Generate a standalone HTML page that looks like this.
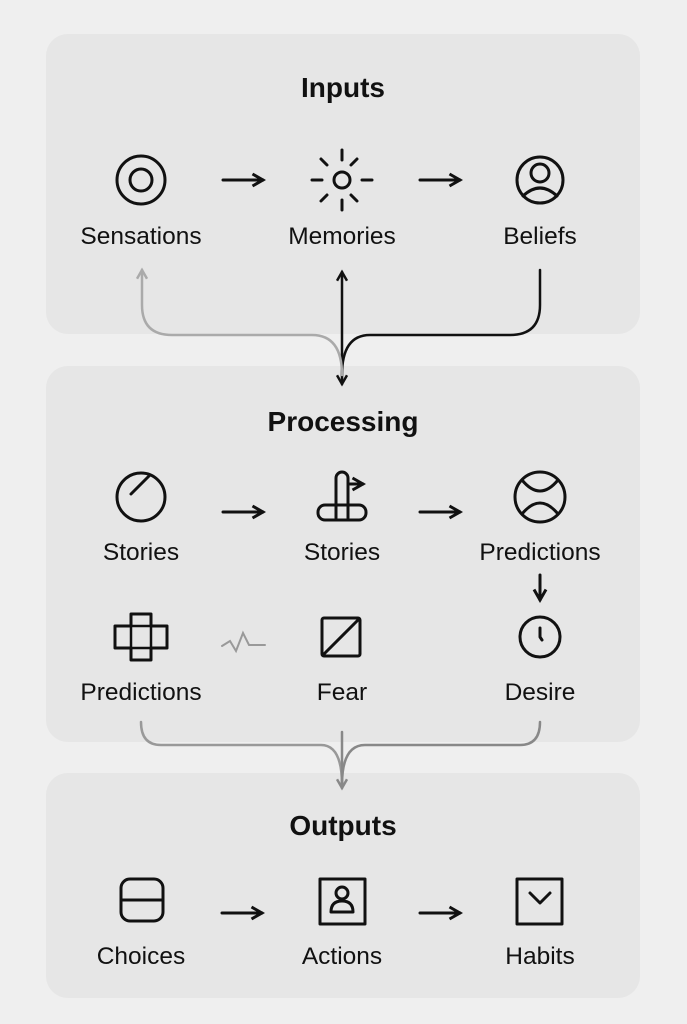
<!DOCTYPE html>
<html><head><meta charset="utf-8"><style>
html,body{margin:0;padding:0;background:#efefef}
svg{display:block}
text{font-family:"Liberation Sans",sans-serif;fill:#111;text-anchor:middle}
.l{font-size:24.5px}
.t{font-size:28px;font-weight:bold}
</style></head><body>
<svg width="687" height="1024" viewBox="0 0 687 1024" xmlns="http://www.w3.org/2000/svg">
<defs>
<marker id="ak" viewBox="0 0 10 10" refX="8" refY="5" markerWidth="5" markerHeight="5" orient="auto-start-reverse" markerUnits="strokeWidth"><path d="M1 1 L8 5 L1 9" fill="none" stroke="#111" stroke-width="2"/></marker>
<marker id="ag" viewBox="0 0 10 10" refX="8" refY="5" markerWidth="5" markerHeight="5" orient="auto-start-reverse"><path d="M1 1 L8 5 L1 9" fill="none" stroke="#888" stroke-width="2"/></marker>
<marker id="ag2" viewBox="0 0 10 10" refX="8" refY="5" markerWidth="5" markerHeight="5" orient="auto-start-reverse"><path d="M1 1 L8 5 L1 9" fill="none" stroke="#aaa" stroke-width="2"/></marker>
</defs>
<rect width="687" height="1024" fill="#efefef"/>
<rect x="46" y="34" width="594" height="300" rx="22" fill="#e6e6e6"/>
<rect x="46" y="366" width="594" height="376" rx="22" fill="#e6e6e6"/>
<rect x="46" y="773" width="594" height="225" rx="22" fill="#e6e6e6"/>

<g fill="none" stroke="#111" stroke-width="3" stroke-linecap="round" stroke-linejoin="round">
<circle cx="141" cy="180" r="24"/><circle cx="141" cy="180" r="11"/>
<circle cx="342" cy="180" r="8"/>
<path d="M342 150v10M342 200v10M312 180h10M362 180h10M321 159l6 6M357 159l-6 6M321 201l6-6M357 201l-6-6"/>
<circle cx="540" cy="180" r="23"/><circle cx="540" cy="173" r="9"/><path d="M523 196q17-16 34 0"/>
<path d="M223 180h40" marker-end="url(#ak)"/>
<path d="M420 180h40" marker-end="url(#ak)"/>
<path d="M223 512h40" marker-end="url(#ak)"/>
<path d="M420 512h40" marker-end="url(#ak)"/>
<path d="M222 913h40" marker-end="url(#ak)"/>
<path d="M420 913h40" marker-end="url(#ak)"/>
<path d="M540 575v25" marker-end="url(#ak)"/>
<circle cx="141" cy="497" r="24"/><path d="M131 494l18-18"/>
<path d="M336 518v-40a6 6 0 0 1 12 0v40"/><rect x="318" y="505" width="48" height="15" rx="7"/>
<path d="M350 484h13" marker-end="url(#ak)"/>
<circle cx="540" cy="497" r="25"/><path d="M522 480q18 22 36 0M522 514q18-22 36 0"/>
<path d="M131 614h20v12h16v22h-16v12h-20v-12h-16v-22h16z"/><path d="M131 626v22M151 626v22M115 626h52M115 648h52" stroke-width="2.5"/>
<rect x="322" y="618" width="38" height="38" rx="2"/><path d="M323 655l36-36"/>
<circle cx="540" cy="637" r="20"/><path d="M540 628v9l2 3"/>
<rect x="121" y="879" width="42" height="42" rx="9"/><path d="M121 900h42"/>
<rect x="320" y="879" width="45" height="45"/><circle cx="342" cy="893" r="6"/><path d="M331 912q0-11 11-11q11 0 11 11z"/>
<rect x="517" y="879" width="45" height="45"/><path d="M530 893l10 10l10-10"/>
<path d="M342 272v112" marker-start="url(#ak)" marker-end="url(#ak)" stroke-width="2.5"/>
<path d="M540 270v35q0 30-30 30h-140q-28 0-28 40" stroke-width="2.5"/>
</g>
<g fill="none" stroke-linecap="round" stroke-width="2.5">
<path d="M222 646l8-5l6 10l7-18l6 12h16" stroke="#999" stroke-width="2"/>
<path d="M342 375q0-40-30-40h-140q-30 0-30-30v-35" stroke="#aaa" marker-end="url(#ag2)"/>
<path d="M141 722q0 23 20 23h160q21 0 21 40" stroke="#999"/>
<path d="M540 722q0 23-20 23h-155q-23 0-23 40" stroke="#888"/>
<path d="M342 732v56" stroke="#888" marker-end="url(#ag)"/>
</g>

<text class="t" x="343" y="97">Inputs</text>
<text class="l" x="141" y="244">Sensations</text>
<text class="l" x="342" y="244">Memories</text>
<text class="l" x="540" y="244">Beliefs</text>
<text class="t" x="343" y="431">Processing</text>
<text class="l" x="141" y="560">Stories</text>
<text class="l" x="342" y="560">Stories</text>
<text class="l" x="540" y="560">Predictions</text>
<text class="l" x="141" y="700">Predictions</text>
<text class="l" x="342" y="700">Fear</text>
<text class="l" x="540" y="700">Desire</text>
<text class="t" x="343" y="835">Outputs</text>
<text class="l" x="141" y="964">Choices</text>
<text class="l" x="342" y="964">Actions</text>
<text class="l" x="540" y="964">Habits</text>
</svg>
</body></html>
